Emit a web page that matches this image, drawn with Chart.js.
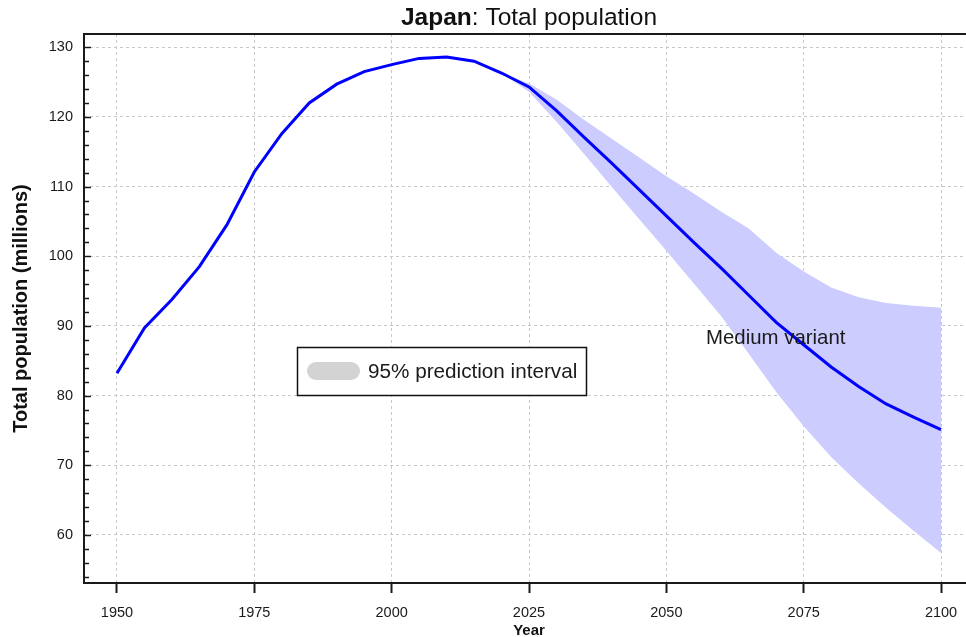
<!DOCTYPE html>
<html>
<head>
<meta charset="utf-8">
<title>Japan: Total population</title>
<script src="https://cdn.jsdelivr.net/npm/chart.js@4.4.1/dist/chart.umd.min.js"></script>
<style>
  html, body { margin: 0; padding: 0; background: #fff; overflow: hidden; width: 966px; height: 637px; }
  #wrap { width: 974px; height: 637px; }
  canvas { display: block; }
</style>
</head>
<body>
<div id="wrap"><canvas id="chart" width="974" height="637"></canvas></div>
<script>
// Total population, millions (estimates to 2020, medium variant after)
const years = [1950, 1955, 1960, 1965, 1970, 1975, 1980, 1985, 1990, 1995, 2000,
               2005, 2010, 2015, 2020, 2025, 2030, 2035, 2040, 2045, 2050,
               2055, 2060, 2065, 2070, 2075, 2080, 2085, 2090, 2095, 2100];
const medium = [83.2, 89.7, 93.8, 98.5, 104.5, 112.1, 117.6, 122.0, 124.7, 126.5, 127.5,
                128.4, 128.6, 128.0, 126.3, 124.3, 120.9, 117.1, 113.4, 109.6, 105.8,
                102.0, 98.3, 94.4, 90.5, 87.3, 84.1, 81.3, 78.8, 76.9, 75.1];

// 95% prediction interval of the projection
const piYears = [2020, 2025, 2030, 2035, 2040, 2045, 2050, 2055, 2060,
                 2065, 2070, 2075, 2080, 2085, 2090, 2095, 2100];
const piUpper = [126.3, 124.8, 122.5, 119.6, 116.9, 114.2, 111.5, 109.0, 106.4,
                 104.0, 100.5, 97.8, 95.5, 94.1, 93.3, 92.9, 92.6];
const piLower = [126.3, 123.6, 119.3, 114.7, 110.0, 105.4, 100.8, 96.1, 91.4,
                 86.0, 80.5, 75.6, 71.2, 67.4, 63.9, 60.6, 57.4];

const xTicks = [1950, 1975, 2000, 2025, 2050, 2075, 2100];
const yTicks = [60, 70, 80, 90, 100, 110, 120, 130];

const FONT = '"Liberation Sans", Arial, sans-serif';
const INK = '#1a1a1a';

const pts = (xs, ys) => xs.map((x, i) => ({ x: x, y: ys[i] }));

// Frame, inward y ticks, title, legend box and the variant label
const decorations = {
  id: 'decorations',
  afterDatasetsDraw(chart) {
    const { ctx, chartArea: a, scales: { x, y } } = chart;
    ctx.save();

    // y ticks pointing into the plot, minor every 2, major every 10
    ctx.strokeStyle = INK;
    ctx.lineWidth = 1.5;
    for (let v = Math.ceil(y.min / 2) * 2; v <= y.max; v += 2) {
      const py = Math.round(y.getPixelForValue(v)) + 0.5;
      const len = (v % 10 === 0) ? 7 : 5;
      ctx.beginPath();
      ctx.moveTo(a.left, py);
      ctx.lineTo(a.left + len, py);
      ctx.stroke();
    }

    // plot box
    ctx.lineWidth = 2;
    ctx.strokeStyle = INK;
    ctx.strokeRect(a.left, a.top, a.right - a.left, a.bottom - a.top);

    // legend
    ctx.fillStyle = '#fff';
    ctx.fillRect(297, 347, 290, 49);
    ctx.lineWidth = 1.5;
    ctx.strokeStyle = '#111';
    ctx.strokeRect(297.5, 347.5, 289, 48);
    ctx.fillStyle = '#d3d3d3';
    ctx.beginPath();
    ctx.roundRect(307, 362, 53, 18, 9);
    ctx.fill();
    ctx.fillStyle = INK;
    ctx.font = '20.7px ' + FONT;
    ctx.textBaseline = 'middle';
    ctx.textAlign = 'left';
    ctx.fillText('95% prediction interval', 368, 372);

    // series label
    ctx.font = '20.4px ' + FONT;
    ctx.textBaseline = 'alphabetic';
    ctx.fillText('Medium variant', 706, 344);

    // title: bold country name, regular rest
    const bold = 'bold 24.5px ' + FONT, reg = '24.5px ' + FONT;
    ctx.font = bold; const w1 = ctx.measureText('Japan').width;
    ctx.font = reg;  const w2 = ctx.measureText(': Total population').width;
    const cx = (a.left + a.right) / 2;
    const tx = cx - (w1 + w2) / 2;
    ctx.fillStyle = '#111';
    ctx.font = bold; ctx.fillText('Japan', tx, 24.5);
    ctx.font = reg;  ctx.fillText(': Total population', tx + w1, 24.5);

    ctx.restore();
  }
};

new Chart(document.getElementById('chart'), {
  type: 'line',
  data: {
    datasets: [
      {
        label: 'Medium variant',
        data: pts(years, medium),
        borderColor: '#0000ff',
        borderWidth: 3,
        pointRadius: 0,
        tension: 0,
        fill: false
      },
      {
        label: '95% upper',
        data: pts(piYears, piUpper),
        borderWidth: 0,
        borderColor: 'rgba(0,0,0,0)',
        backgroundColor: 'rgb(204,204,255)',
        pointRadius: 0,
        tension: 0,
        fill: '+1'
      },
      {
        label: '95% lower',
        data: pts(piYears, piLower),
        borderWidth: 0,
        borderColor: 'rgba(0,0,0,0)',
        backgroundColor: 'rgb(204,204,255)',
        pointRadius: 0,
        tension: 0,
        fill: false
      }
    ]
  },
  options: {
    responsive: false,
    animation: false,
    devicePixelRatio: 1,
    layout: { padding: { top: 34, right: 0, bottom: 0, left: 0 } },
    plugins: {
      legend: { display: false },
      tooltip: { enabled: false },
      title: { display: false }
    },
    scales: {
      x: {
        type: 'linear',
        min: 1944,
        max: 2106,
        afterBuildTicks: s => { s.ticks = xTicks.map(v => ({ value: v })); },
        afterFit: s => { s.height = 54; },
        ticks: {
          autoSkip: false,
          maxRotation: 0,
          padding: 11,
          color: INK,
          font: { family: FONT, size: 14.5 },
          callback: v => String(v)
        },
        grid: {
          color: '#c8c8c8',
          lineWidth: 1,
          drawTicks: true,
          tickLength: 10,
          tickColor: INK,
          tickWidth: 2,
          tickBorderDash: []
        },
        border: { display: false, dash: [3, 3] },
        title: {
          display: true,
          text: 'Year',
          color: '#111',
          font: { family: FONT, size: 15, weight: 'bold' },
          padding: { top: 0, bottom: -3 }
        }
      },
      y: {
        type: 'linear',
        min: 53.1,
        max: 131.9,
        afterBuildTicks: s => { s.ticks = yTicks.map(v => ({ value: v })); },
        afterFit: s => { s.width = 84; },
        ticks: {
          padding: 11,
          color: INK,
          font: { family: FONT, size: 14.5 },
          callback: v => String(v)
        },
        grid: {
          color: '#c8c8c8',
          lineWidth: 1,
          drawTicks: false
        },
        border: { display: false, dash: [3, 3] },
        title: {
          display: true,
          text: 'Total population (millions)',
          color: '#111',
          font: { family: FONT, size: 20, weight: 'bold' },
          padding: { top: 9, bottom: 0 }
        }
      }
    }
  },
  plugins: [decorations]
});
</script>
</body>
</html>
